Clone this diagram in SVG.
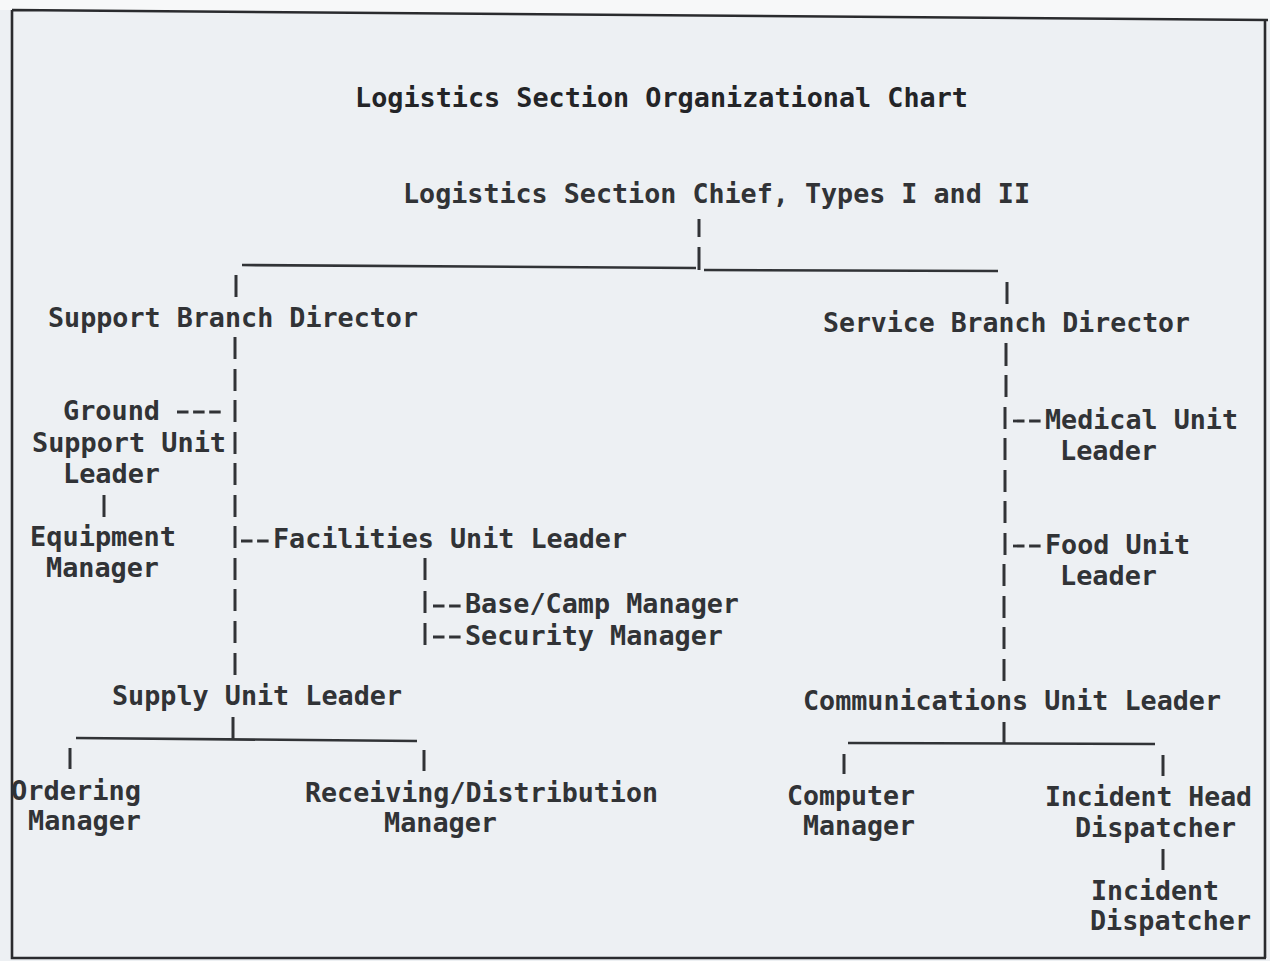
<svg xmlns="http://www.w3.org/2000/svg" width="1270" height="961" viewBox="0 0 1270 961">
<style>
.t{font-family:"DejaVu Sans Mono","Liberation Mono",monospace;font-size:26.5px;font-weight:bold;fill:#313336}
.title{font-size:27px;fill:#232427}
.c line,.c path{stroke:#313336;stroke-width:3;fill:none;stroke-linecap:butt}
.c .h{stroke-width:2.6}
.c .d{stroke-dasharray:11.5 4.6;stroke-width:2.8}
.frame{stroke:#2a2b2e;stroke-width:2.6;fill:none}
</style>
<rect x="0" y="0" width="1270" height="961" fill="#edf0f3"/>
<path d="M0,0 H1270 V20 L12,10 H0 Z" fill="#f7f8f9"/>
<path class="frame" d="M12,10 L1268,20 M12,10 V958 H1266 M1265,20 V958"/>

<g class="c" id="connectors">
  <!-- chief to branches -->
  <line x1="699" y1="219" x2="699" y2="237"/>
  <line x1="699" y1="247" x2="699" y2="270"/>
  <line class="h" x1="242" y1="265" x2="696" y2="268"/>
  <line class="h" x1="704" y1="270" x2="998" y2="271"/>
  <line x1="236" y1="275" x2="236" y2="297"/>
  <line x1="1007" y1="282" x2="1007" y2="304"/>
  <!-- support branch column -->
  <line x1="235" y1="337" x2="235" y2="359"/>
  <line x1="235" y1="369" x2="235" y2="391"/>
  <line x1="235" y1="400" x2="235" y2="422"/>
  <line x1="235" y1="432" x2="235" y2="454"/>
  <line x1="235" y1="463" x2="235" y2="485"/>
  <line x1="235" y1="495" x2="235" y2="517"/>
  <line x1="235" y1="526" x2="235" y2="548"/>
  <line x1="235" y1="558" x2="235" y2="580"/>
  <line x1="235" y1="589" x2="235" y2="611"/>
  <line x1="235" y1="621" x2="235" y2="643"/>
  <line x1="235" y1="653" x2="235" y2="675"/>
  <!-- ground support -->
  <line class="d" x1="177" y1="412" x2="224" y2="412"/>
  <line x1="104" y1="495" x2="104" y2="517"/>
  <!-- facilities -->
  <line class="d" x1="241" y1="541" x2="271" y2="541"/>
  <line x1="425" y1="558" x2="425" y2="580"/>
  <line x1="425" y1="591" x2="425" y2="613"/>
  <line class="d" x1="433" y1="606" x2="463" y2="606"/>
  <line x1="425" y1="623" x2="425" y2="645"/>
  <line class="d" x1="433" y1="637" x2="463" y2="637"/>
  <!-- supply -->
  <line x1="233" y1="717" x2="233" y2="739"/>
  <line class="h" x1="76" y1="738" x2="417" y2="741"/>
  <line x1="70" y1="748" x2="70" y2="769"/>
  <line x1="424" y1="750" x2="424" y2="771"/>
  <!-- service branch column -->
  <line x1="1006" y1="343" x2="1006" y2="366"/>
  <line x1="1006" y1="375" x2="1006" y2="397"/>
  <line x1="1005" y1="407" x2="1005" y2="429"/>
  <line x1="1005" y1="438" x2="1005" y2="460"/>
  <line x1="1005" y1="470" x2="1005" y2="492"/>
  <line x1="1005" y1="501" x2="1005" y2="523"/>
  <line x1="1005" y1="533" x2="1005" y2="555"/>
  <line x1="1004" y1="564" x2="1004" y2="586"/>
  <line x1="1004" y1="596" x2="1004" y2="618"/>
  <line x1="1004" y1="627" x2="1004" y2="649"/>
  <line x1="1004" y1="659" x2="1004" y2="681"/>
  <line class="d" x1="1013" y1="421" x2="1043" y2="421"/>
  <line class="d" x1="1013" y1="546" x2="1043" y2="546"/>
  <!-- communications -->
  <line x1="1004" y1="722" x2="1004" y2="743"/>
  <line class="h" x1="848" y1="743" x2="1155" y2="744"/>
  <line x1="844" y1="754" x2="844" y2="774"/>
  <line x1="1163" y1="755" x2="1163" y2="776"/>
  <line x1="1163" y1="849" x2="1163" y2="870"/>
</g>

<g id="title"><text class="t title" x="355" y="107" textLength="613" lengthAdjust="spacingAndGlyphs">Logistics Section Organizational Chart</text></g>
<g id="chief"><text class="t" x="403" y="203" textLength="627" lengthAdjust="spacingAndGlyphs">Logistics Section Chief, Types I and II</text></g>
<g id="support-branch"><text class="t" x="48" y="327" textLength="370" lengthAdjust="spacingAndGlyphs">Support Branch Director</text></g>
<g id="service-branch"><text class="t" x="823" y="332" textLength="367" lengthAdjust="spacingAndGlyphs">Service Branch Director</text></g>
<g id="ground-support">
  <text class="t" x="63" y="420" textLength="97" lengthAdjust="spacingAndGlyphs">Ground</text>
  <text class="t" x="32" y="452" textLength="194" lengthAdjust="spacingAndGlyphs">Support Unit</text>
  <text class="t" x="63" y="483" textLength="97" lengthAdjust="spacingAndGlyphs">Leader</text>
</g>
<g id="equipment">
  <text class="t" x="30" y="546" textLength="146" lengthAdjust="spacingAndGlyphs">Equipment</text>
  <text class="t" x="46" y="577" textLength="113" lengthAdjust="spacingAndGlyphs">Manager</text>
</g>
<g id="facilities"><text class="t" x="273" y="548" textLength="354" lengthAdjust="spacingAndGlyphs">Facilities Unit Leader</text></g>
<g id="base-camp"><text class="t" x="465" y="613" textLength="274" lengthAdjust="spacingAndGlyphs">Base/Camp Manager</text></g>
<g id="security"><text class="t" x="465" y="645" textLength="258" lengthAdjust="spacingAndGlyphs">Security Manager</text></g>
<g id="supply"><text class="t" x="112" y="705" textLength="290" lengthAdjust="spacingAndGlyphs">Supply Unit Leader</text></g>
<g id="ordering">
  <text class="t" x="11" y="800" textLength="130" lengthAdjust="spacingAndGlyphs">Ordering</text>
  <text class="t" x="28" y="830" textLength="113" lengthAdjust="spacingAndGlyphs">Manager</text>
</g>
<g id="receiving">
  <text class="t" x="305" y="802" textLength="353" lengthAdjust="spacingAndGlyphs">Receiving/Distribution</text>
  <text class="t" x="384" y="832" textLength="113" lengthAdjust="spacingAndGlyphs">Manager</text>
</g>
<g id="medical">
  <text class="t" x="1045" y="429" textLength="193" lengthAdjust="spacingAndGlyphs">Medical Unit</text>
  <text class="t" x="1060" y="460" textLength="97" lengthAdjust="spacingAndGlyphs">Leader</text>
</g>
<g id="food">
  <text class="t" x="1045" y="554" textLength="145" lengthAdjust="spacingAndGlyphs">Food Unit</text>
  <text class="t" x="1060" y="585" textLength="97" lengthAdjust="spacingAndGlyphs">Leader</text>
</g>
<g id="communications"><text class="t" x="803" y="710" textLength="418" lengthAdjust="spacingAndGlyphs">Communications Unit Leader</text></g>
<g id="computer">
  <text class="t" x="787" y="805" textLength="128" lengthAdjust="spacingAndGlyphs">Computer</text>
  <text class="t" x="803" y="835" textLength="112" lengthAdjust="spacingAndGlyphs">Manager</text>
</g>
<g id="head-dispatcher">
  <text class="t" x="1045" y="806" textLength="207" lengthAdjust="spacingAndGlyphs">Incident Head</text>
  <text class="t" x="1075" y="837" textLength="161" lengthAdjust="spacingAndGlyphs">Dispatcher</text>
</g>
<g id="dispatcher">
  <text class="t" x="1091" y="900" textLength="128" lengthAdjust="spacingAndGlyphs">Incident</text>
  <text class="t" x="1090" y="930" textLength="161" lengthAdjust="spacingAndGlyphs">Dispatcher</text>
</g>
</svg>
